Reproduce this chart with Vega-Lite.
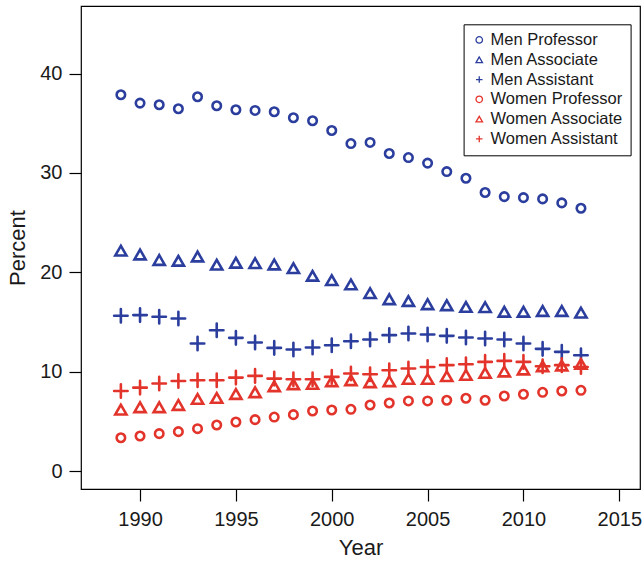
{
  "$schema": "https://vega.github.io/schema/vega-lite/v6.json",
  "width": 559,
  "height": 483,
  "autosize": {"type": "none"},
  "padding": {"left": 81, "top": 6, "right": 4, "bottom": 72},
  "background": "white",
  "config": {
    "font": "Liberation Sans",
    "view": {"stroke": "black", "strokeWidth": 1.2},
    "axis": {
      "grid": false,
      "domain": false,
      "tickColor": "black",
      "tickWidth": 1.2,
      "tickSize": 12,
      "labelFontSize": 20,
      "labelColor": "#1a1a1a",
      "titleFontSize": 22,
      "titleFontWeight": "normal",
      "titleColor": "#1a1a1a"
    }
  },
  "data": {
    "values": [
      {"year":1989,"group":"Men Professor","pct":37.87},{"year":1990,"group":"Men Professor","pct":37.03},{"year":1991,"group":"Men Professor","pct":36.86},{"year":1992,"group":"Men Professor","pct":36.46},{"year":1993,"group":"Men Professor","pct":37.67},{"year":1994,"group":"Men Professor","pct":36.76},{"year":1995,"group":"Men Professor","pct":36.36},{"year":1996,"group":"Men Professor","pct":36.29},{"year":1997,"group":"Men Professor","pct":36.16},{"year":1998,"group":"Men Professor","pct":35.56},{"year":1999,"group":"Men Professor","pct":35.25},{"year":2000,"group":"Men Professor","pct":34.27},{"year":2001,"group":"Men Professor","pct":32.96},{"year":2002,"group":"Men Professor","pct":33.07},{"year":2003,"group":"Men Professor","pct":31.96},{"year":2004,"group":"Men Professor","pct":31.55},{"year":2005,"group":"Men Professor","pct":30.99},{"year":2006,"group":"Men Professor","pct":30.14},{"year":2007,"group":"Men Professor","pct":29.47},{"year":2008,"group":"Men Professor","pct":28.03},{"year":2009,"group":"Men Professor","pct":27.62},{"year":2010,"group":"Men Professor","pct":27.52},{"year":2011,"group":"Men Professor","pct":27.39},{"year":2012,"group":"Men Professor","pct":26.99},{"year":2013,"group":"Men Professor","pct":26.45},
      {"year":1989,"group":"Men Associate","pct":22.18},{"year":1990,"group":"Men Associate","pct":21.79},{"year":1991,"group":"Men Associate","pct":21.24},{"year":1992,"group":"Men Associate","pct":21.16},{"year":1993,"group":"Men Associate","pct":21.59},{"year":1994,"group":"Men Associate","pct":20.77},{"year":1995,"group":"Men Associate","pct":20.96},{"year":1996,"group":"Men Associate","pct":20.92},{"year":1997,"group":"Men Associate","pct":20.79},{"year":1998,"group":"Men Associate","pct":20.42},{"year":1999,"group":"Men Associate","pct":19.65},{"year":2000,"group":"Men Associate","pct":19.21},{"year":2001,"group":"Men Associate","pct":18.79},{"year":2002,"group":"Men Associate","pct":17.91},{"year":2003,"group":"Men Associate","pct":17.29},{"year":2004,"group":"Men Associate","pct":17.11},{"year":2005,"group":"Men Associate","pct":16.79},{"year":2006,"group":"Men Associate","pct":16.69},{"year":2007,"group":"Men Associate","pct":16.52},{"year":2008,"group":"Men Associate","pct":16.5},{"year":2009,"group":"Men Associate","pct":16.03},{"year":2010,"group":"Men Associate","pct":16.03},{"year":2011,"group":"Men Associate","pct":16.11},{"year":2012,"group":"Men Associate","pct":16.11},{"year":2013,"group":"Men Associate","pct":15.95},
      {"year":1989,"group":"Men Assistant","pct":15.63},{"year":1990,"group":"Men Assistant","pct":15.7},{"year":1991,"group":"Men Assistant","pct":15.53},{"year":1992,"group":"Men Assistant","pct":15.36},{"year":1993,"group":"Men Assistant","pct":12.84},{"year":1994,"group":"Men Assistant","pct":14.18},{"year":1995,"group":"Men Assistant","pct":13.41},{"year":1996,"group":"Men Assistant","pct":12.94},{"year":1997,"group":"Men Assistant","pct":12.4},{"year":1998,"group":"Men Assistant","pct":12.23},{"year":1999,"group":"Men Assistant","pct":12.44},{"year":2000,"group":"Men Assistant","pct":12.67},{"year":2001,"group":"Men Assistant","pct":13.07},{"year":2002,"group":"Men Assistant","pct":13.24},{"year":2003,"group":"Men Assistant","pct":13.68},{"year":2004,"group":"Men Assistant","pct":13.85},{"year":2005,"group":"Men Assistant","pct":13.75},{"year":2006,"group":"Men Assistant","pct":13.61},{"year":2007,"group":"Men Assistant","pct":13.45},{"year":2008,"group":"Men Assistant","pct":13.34},{"year":2009,"group":"Men Assistant","pct":13.24},{"year":2010,"group":"Men Assistant","pct":12.84},{"year":2011,"group":"Men Assistant","pct":12.3},{"year":2012,"group":"Men Assistant","pct":12.0},{"year":2013,"group":"Men Assistant","pct":11.66},
      {"year":1989,"group":"Women Professor","pct":3.36},{"year":1990,"group":"Women Professor","pct":3.53},{"year":1991,"group":"Women Professor","pct":3.77},{"year":1992,"group":"Women Professor","pct":3.97},{"year":1993,"group":"Women Professor","pct":4.27},{"year":1994,"group":"Women Professor","pct":4.64},{"year":1995,"group":"Women Professor","pct":4.94},{"year":1996,"group":"Women Professor","pct":5.18},{"year":1997,"group":"Women Professor","pct":5.44},{"year":1998,"group":"Women Professor","pct":5.68},{"year":1999,"group":"Women Professor","pct":6.05},{"year":2000,"group":"Women Professor","pct":6.15},{"year":2001,"group":"Women Professor","pct":6.22},{"year":2002,"group":"Women Professor","pct":6.65},{"year":2003,"group":"Women Professor","pct":6.85},{"year":2004,"group":"Women Professor","pct":7.06},{"year":2005,"group":"Women Professor","pct":7.06},{"year":2006,"group":"Women Professor","pct":7.13},{"year":2007,"group":"Women Professor","pct":7.33},{"year":2008,"group":"Women Professor","pct":7.13},{"year":2009,"group":"Women Professor","pct":7.56},{"year":2010,"group":"Women Professor","pct":7.73},{"year":2011,"group":"Women Professor","pct":7.93},{"year":2012,"group":"Women Professor","pct":8.06},{"year":2013,"group":"Women Professor","pct":8.13},
      {"year":1989,"group":"Women Associate","pct":6.19},{"year":1990,"group":"Women Associate","pct":6.42},{"year":1991,"group":"Women Associate","pct":6.42},{"year":1992,"group":"Women Associate","pct":6.65},{"year":1993,"group":"Women Associate","pct":7.26},{"year":1994,"group":"Women Associate","pct":7.36},{"year":1995,"group":"Women Associate","pct":7.76},{"year":1996,"group":"Women Associate","pct":7.93},{"year":1997,"group":"Women Associate","pct":8.54},{"year":1998,"group":"Women Associate","pct":8.74},{"year":1999,"group":"Women Associate","pct":8.77},{"year":2000,"group":"Women Associate","pct":9.04},{"year":2001,"group":"Women Associate","pct":9.14},{"year":2002,"group":"Women Associate","pct":8.94},{"year":2003,"group":"Women Associate","pct":9.04},{"year":2004,"group":"Women Associate","pct":9.28},{"year":2005,"group":"Women Associate","pct":9.28},{"year":2006,"group":"Women Associate","pct":9.55},{"year":2007,"group":"Women Associate","pct":9.68},{"year":2008,"group":"Women Associate","pct":9.88},{"year":2009,"group":"Women Associate","pct":10.02},{"year":2010,"group":"Women Associate","pct":10.22},{"year":2011,"group":"Women Associate","pct":10.55},{"year":2012,"group":"Women Associate","pct":10.62},{"year":2013,"group":"Women Associate","pct":10.79},
      {"year":1989,"group":"Women Assistant","pct":8.06},{"year":1990,"group":"Women Assistant","pct":8.4},{"year":1991,"group":"Women Assistant","pct":8.81},{"year":1992,"group":"Women Assistant","pct":9.07},{"year":1993,"group":"Women Assistant","pct":9.14},{"year":1994,"group":"Women Assistant","pct":9.14},{"year":1995,"group":"Women Assistant","pct":9.41},{"year":1996,"group":"Women Assistant","pct":9.58},{"year":1997,"group":"Women Assistant","pct":9.31},{"year":1998,"group":"Women Assistant","pct":9.24},{"year":1999,"group":"Women Assistant","pct":9.24},{"year":2000,"group":"Women Assistant","pct":9.48},{"year":2001,"group":"Women Assistant","pct":9.82},{"year":2002,"group":"Women Assistant","pct":9.75},{"year":2003,"group":"Women Assistant","pct":10.15},{"year":2004,"group":"Women Assistant","pct":10.32},{"year":2005,"group":"Women Assistant","pct":10.48},{"year":2006,"group":"Women Assistant","pct":10.66},{"year":2007,"group":"Women Assistant","pct":10.76},{"year":2008,"group":"Women Assistant","pct":10.99},{"year":2009,"group":"Women Assistant","pct":11.09},{"year":2010,"group":"Women Assistant","pct":10.99},{"year":2011,"group":"Women Assistant","pct":10.55},{"year":2012,"group":"Women Assistant","pct":10.66},{"year":2013,"group":"Women Assistant","pct":10.48}
    ]
  },
  "encoding": {
    "x": {
      "field": "year",
      "type": "quantitative",
      "scale": {"domain": [1986.92, 2016.08], "nice": false, "zero": false},
      "axis": {"values": [1990, 1995, 2000, 2005, 2010, 2015], "format": "d", "labelPadding": 8, "titlePadding": 8, "title": "Year", "labelFlush": false}
    },
    "y": {
      "field": "pct",
      "type": "quantitative",
      "scale": {"domain": [-1.8, 46.8], "nice": false, "zero": false},
      "axis": {"values": [0, 10, 20, 30, 40], "labelPadding": 7, "titlePadding": 10, "title": "Percent", "labelFlush": false}
    },
    "color": {
      "field": "group",
      "type": "nominal",
      "scale": {
        "domain": ["Men Professor", "Men Associate", "Men Assistant", "Women Professor", "Women Associate", "Women Assistant"],
        "range": ["#2B3E9E", "#2B3E9E", "#2B3E9E", "#E3342B", "#E3342B", "#E3342B"]
      },
      "legend": {
        "title": null,
        "orient": "none",
        "legendX": 382.6,
        "legendY": 18.3,
        "strokeColor": "black",
        "fillColor": "white",
        "padding": 7.4,
        "rowPadding": 2.8,
        "labelFontSize": 16.5,
        "labelColor": "#1a1a1a",
        "labelOffset": 3,
        "symbolSize": 42,
        "symbolStrokeWidth": 1.3,
        "labelLimit": 300,
        "encode": {
          "legend": {"update": {"strokeWidth": {"value": 1.3}}},
          "symbols": {"update": {"strokeWidth": {"value": 1.3}, "fillOpacity": {"value": 0}}}
        }
      }
    },
    "shape": {
      "field": "group",
      "type": "nominal",
      "scale": {
        "domain": ["Men Professor", "Men Associate", "Men Assistant", "Women Professor", "Women Associate", "Women Assistant"],
        "range": ["circle", "triangle-up", "M-1,0H1M0,-1V1", "circle", "triangle-up", "M-1,0H1M0,-1V1"]
      }
    }
  },
  "layer": [
    {"transform": [{"filter": {"field": "group", "equal": "Men Professor"}}], "mark": {"type": "point", "size": 72, "filled": false, "strokeWidth": 2.6, "strokeCap": "round", "opacity": 1}},
    {"transform": [{"filter": {"field": "group", "equal": "Men Associate"}}], "mark": {"type": "point", "size": 125, "filled": false, "strokeWidth": 2.6, "strokeCap": "round", "opacity": 1}},
    {"transform": [{"filter": {"field": "group", "equal": "Men Assistant"}}], "mark": {"type": "point", "size": 182, "filled": false, "strokeWidth": 2.6, "strokeCap": "round", "opacity": 1}},
    {"transform": [{"filter": {"field": "group", "equal": "Women Professor"}}], "mark": {"type": "point", "size": 72, "filled": false, "strokeWidth": 2.6, "strokeCap": "round", "opacity": 1}},
    {"transform": [{"filter": {"field": "group", "equal": "Women Associate"}}], "mark": {"type": "point", "size": 125, "filled": false, "strokeWidth": 2.6, "strokeCap": "round", "opacity": 1}},
    {"transform": [{"filter": {"field": "group", "equal": "Women Assistant"}}], "mark": {"type": "point", "size": 182, "filled": false, "strokeWidth": 2.6, "strokeCap": "round", "opacity": 1}}
  ]
}
